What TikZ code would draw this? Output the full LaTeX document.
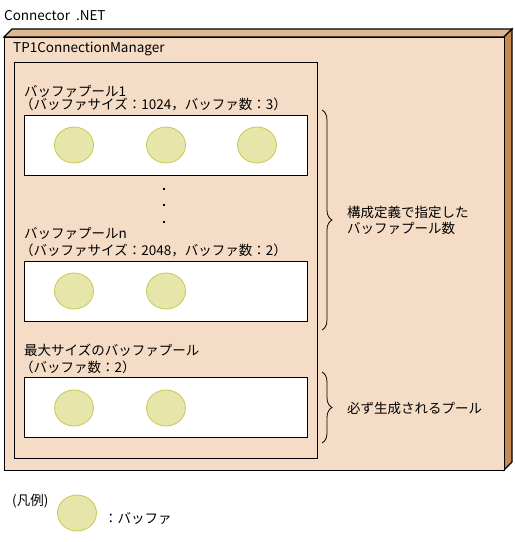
\documentclass[tikz,border=0pt]{standalone}
\usepackage{fontspec}
\setmainfont{Noto Sans CJK JP}
\usetikzlibrary{decorations.pathreplacing}
\definecolor{front}{HTML}{F5DCC6}
\definecolor{topf}{HTML}{DEB890}
\definecolor{sidef}{HTML}{C48A52}
\definecolor{buf}{HTML}{E6E6AA}
\definecolor{bufline}{HTML}{C8C850}
\tikzset{
  lbl/.style={anchor=west, inner sep=0pt, font=\fontsize{13.5}{15}\selectfont},
  bufbox/.style={draw=black, fill=white, line width=1.1pt, minimum width=283pt, minimum height=60pt, anchor=north west, inner sep=0pt},
  bufc/.style={ellipse, draw=bufline, fill=buf, line width=0.8pt, minimum width=39pt, minimum height=36pt, inner sep=0pt},
  dotm/.style={fill=black, minimum size=2.6pt, inner sep=0pt},
  brc/.style={decorate, decoration={brace, amplitude=10pt}, line width=0.8pt},
}
\usetikzlibrary{shapes.geometric}
\begin{document}
\begin{tikzpicture}[x=1pt, y=-1pt]
\useasboundingbox (0,0) rectangle (515,542);
% 3D outer box
\draw[fill=topf, line width=1.1pt] (4,37) -- (12,29) -- (512,29) -- (504,37) -- cycle;
\draw[fill=sidef, line width=1.1pt] (504,37) -- (512,29) -- (512,462) -- (504,470) -- cycle;
\node[draw=black, fill=front, line width=1.1pt, minimum width=500pt, minimum height=433pt, anchor=north west, inner sep=0pt] (mgr) at (4,37) {};
% inner box
\node[draw=black, fill=front, line width=1.1pt, minimum width=303pt, minimum height=396pt, anchor=north west, inner sep=0pt] (inner) at (14,62) {};

\node[lbl] (t0) at (4,16) {Connector\ \ .NET};
\node[lbl] (t1) at (13,49) {TP1ConnectionManager};

\node[lbl] (p1a) at (24,91) {バッファプール1};
\node[lbl] (p1b) at (20,104) {（バッファサイズ：1024，バッファ数：3）};
\node[bufbox] (b1) at (24,115) {};
\node[bufc] (c11) at (74,145) {};
\node[bufc] (c12) at (166,145) {};
\node[bufc] (c13) at (257,145) {};

\node[dotm] (d1) at (164,189) {};
\node[dotm] (d2) at (164,205) {};
\node[dotm] (d3) at (164,222) {};

\node[lbl] (pna) at (24,233) {バッファプールn};
\node[lbl] (pnb) at (20,250) {（バッファサイズ：2048，バッファ数：2）};
\node[bufbox] (bn) at (24,261) {};
\node[bufc] (cn1) at (74,291) {};
\node[bufc] (cn2) at (166,291) {};

\node[lbl] (pma) at (24,350) {最大サイズのバッファプール};
\node[lbl] (pmb) at (20,367) {（バッファ数：2）};
\node[bufbox] (bm) at (24,377) {};
\node[bufc] (cm1) at (74,408) {};
\node[bufc] (cm2) at (166,408) {};

% braces
\coordinate (br1t) at (322,110);
\coordinate (br1b) at (322,330);
\coordinate (br2t) at (322,372);
\coordinate (br2b) at (322,443);
\draw[brc] (br1t) -- (br1b);
\draw[brc] (br2t) -- (br2b);
\node[lbl] (n1a) at (347,212) {構成定義で指定した};
\node[lbl] (n1b) at (347,228) {バッファプール数};
\node[lbl] (n2) at (347,408) {必ず生成されるプール};

% legend
\node[lbl] (lg) at (12,501) {(凡例)};
\node[bufc] (lgc) at (77,513) {};
\node[lbl] (lgt) at (104,518) {：バッファ};
\end{tikzpicture}
\end{document}
